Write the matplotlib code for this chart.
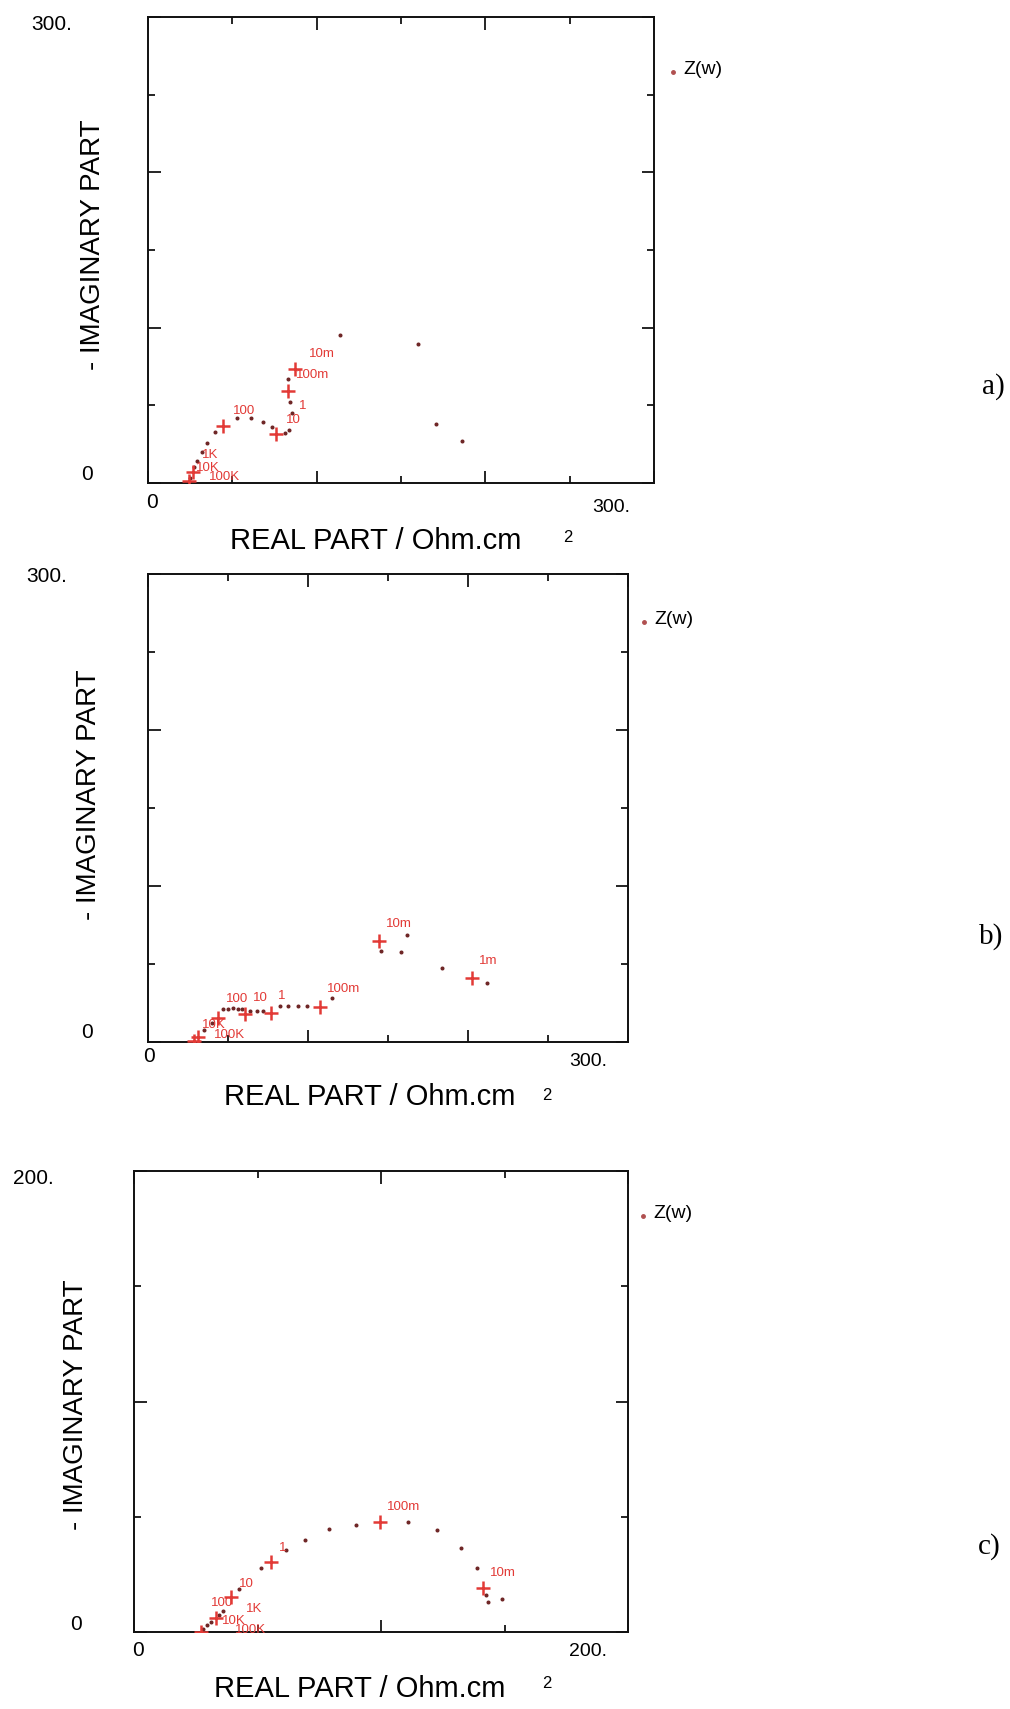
import matplotlib
matplotlib.use("Agg")
import matplotlib.pyplot as plt
from matplotlib.ticker import MultipleLocator

W, H = 1010, 1709
RED = "#e23a36"
DOT = "#6e2626"
SANS = "Liberation Sans"
SERIF = "Liberation Serif"

# ---- panel a) ----
a_plus_re = [24.5, 26.5, 44.7, 76.1, 82.8, 87.4]
a_plus_im = [1.0, 7.0, 37.0, 31.6, 59.5, 73.6]
a_dot_re = [25.0, 27.5, 29.0, 32.0, 35.0, 40.0, 53.0, 61.0, 68.0, 73.6, 81.5,
            83.4, 85.4, 84.0, 82.8, 114.0, 159.8, 170.7, 186.1]
a_dot_im = [3.0, 10.0, 14.0, 20.0, 26.0, 33.0, 42.0, 41.7, 39.0, 35.8, 32.4,
            34.1, 45.0, 52.0, 67.0, 95.5, 89.2, 38.3, 27.1]
a_lab_text = ["10m", "100m", "1", "10", "100", "1K", "10K", "100K"]
a_lab_re = [103.2, 97.3, 91.7, 86.4, 56.8, 37.0, 35.5, 45.5]
a_lab_im = [82.9, 69.3, 49.8, 40.7, 46.6, 18.0, 9.5, 4.0]

# ---- panel b) ----
b_plus_re = [28.75, 31.0, 44.0, 60.6, 76.7, 107.5, 144.6, 202.2]
b_plus_im = [0.6, 3.5, 15.6, 18.2, 18.8, 22.4, 64.7, 41.2]
b_dot_re = [35.0, 40.0, 47.0, 50.0, 53.0, 56.0, 59.0, 64.0, 68.0, 72.0, 82.5,
            87.7, 94.0, 99.6, 115.2, 145.6, 158.1, 161.7, 183.5, 211.7]
b_dot_im = [8.0, 12.0, 21.0, 21.4, 21.5, 21.3, 21.0, 20.0, 20.0, 19.8, 22.8,
            22.8, 23.0, 23.0, 28.4, 58.3, 57.9, 68.4, 47.6, 38.0]
b_lab_text = ["100", "10", "1", "100m", "10m", "1m", "10K", "100K"]
b_lab_re = [55.4, 70.4, 83.5, 122.0, 156.5, 212.7, 41.0, 51.0]
b_lab_im = [27.4, 28.4, 29.5, 33.8, 75.4, 51.9, 11.0, 4.5]

# ---- panel c) ----
c_plus_re = [27.2, 33.0, 39.2, 55.6, 99.5, 141.4]
c_plus_im = [0.0, 6.0, 15.2, 30.2, 47.6, 19.3]
c_dot_re = [28.0, 29.5, 31.0, 34.5, 36.0, 42.6, 51.5, 61.7, 69.2, 79.0, 89.9,
            111.1, 122.7, 132.5, 138.9, 142.4, 143.4, 148.9]
c_dot_im = [1.5, 3.0, 4.5, 7.5, 9.0, 18.8, 27.7, 35.4, 39.9, 44.6, 46.4,
            47.7, 44.2, 36.3, 27.6, 16.0, 13.1, 14.5]
c_lab_text = ["100m", "10m", "1", "10", "100", "1K", "10K", "100K"]
c_lab_re = [109.3, 149.5, 60.3, 45.3, 35.5, 48.5, 40.5, 47.0]
c_lab_im = [54.1, 25.4, 36.3, 21.0, 12.5, 9.8, 4.6, 0.8]

axis_max = [300, 300, 200]
panel_tags = ["a)", "b)", "c)"]

# box geometry (pixels: left, right, top, bottom)
boxes = [(148, 654, 17, 483), (148, 628, 574, 1042), (134, 628, 1171, 1632)]
# text anchors per panel (pixels)
ylab_pos = [(93, 245), (89, 795), (76, 1405)]
ytop_pos = [(52, 24), (47, 577), (33, 1179)]
yzero_pos = [(87, 475), (87, 1033), (76, 1624)]
xzero_pos = [(152, 503), (149, 1057), (138, 1651)]
xmax_pos = [(611, 507), (588, 1062), (588, 1651)]
xlab_pos = [(376, 541), (370, 1097), (360, 1689)]
sq_pos = [(568, 537), (547, 1095), (547, 1683)]
leg_pos = [(673, 72), (644, 622), (643, 1216)]
tag_pos = [(993, 387), (991, 937), (989, 1547)]

fig = plt.figure(figsize=(W / 100, H / 100), dpi=100)
fig.patch.set_facecolor("white")


def fx(x):
    return x / W


def fy(y):
    return 1 - y / H


series = [
    (a_plus_re, a_plus_im, a_dot_re, a_dot_im, a_lab_text, a_lab_re, a_lab_im),
    (b_plus_re, b_plus_im, b_dot_re, b_dot_im, b_lab_text, b_lab_re, b_lab_im),
    (c_plus_re, c_plus_im, c_dot_re, c_dot_im, c_lab_text, c_lab_re, c_lab_im),
]

for i, (pre, pim, dre, dim, lt, lre, lim) in enumerate(series):
    l, r, t, b = boxes[i]
    ax = fig.add_axes([fx(l), fy(b), (r - l) / W, (b - t) / H])
    vmax = axis_max[i]
    ax.set_xlim(0, vmax)
    ax.set_ylim(0, vmax)
    ax.xaxis.set_major_locator(MultipleLocator(100))
    ax.yaxis.set_major_locator(MultipleLocator(100))
    ax.xaxis.set_minor_locator(MultipleLocator(50))
    ax.yaxis.set_minor_locator(MultipleLocator(50))
    ax.tick_params(which="both", direction="in", top=True, right=True,
                   labelbottom=False, labelleft=False, color="black", width=1.2)
    ax.tick_params(which="major", length=9)
    ax.tick_params(which="minor", length=5)
    for s in ax.spines.values():
        s.set_linewidth(1.4)
        s.set_color("#111111")

    ax.plot(dre, dim, linestyle="none", marker="o", markersize=1.9,
            color=DOT, zorder=3)
    ax.plot(pre, pim, linestyle="none", marker="+", markersize=10,
            markeredgewidth=1.8, color=RED, zorder=4)
    for txt, xr, yi in zip(lt, lre, lim):
        ax.text(xr, yi, txt, color=RED, fontsize=9.5, family=SANS,
                ha="center", va="center", zorder=5)

    # axis annotations in the corner style of the plotting software
    top_lbl = "300." if vmax == 300 else "200."
    fig.text(fx(ytop_pos[i][0]), fy(ytop_pos[i][1]), top_lbl, fontsize=15,
             family=SANS, ha="center", va="center")
    fig.text(fx(yzero_pos[i][0]), fy(yzero_pos[i][1]), "0", fontsize=15,
             family=SANS, ha="center", va="center")
    fig.text(fx(xzero_pos[i][0]), fy(xzero_pos[i][1]), "0", fontsize=15,
             family=SANS, ha="center", va="center")
    fig.text(fx(xmax_pos[i][0]), fy(xmax_pos[i][1]), top_lbl, fontsize=14,
             family=SANS, ha="center", va="center")
    fig.text(fx(xlab_pos[i][0]), fy(xlab_pos[i][1]), "REAL PART / Ohm.cm",
             fontsize=21, family=SANS, ha="center", va="center")
    fig.text(fx(sq_pos[i][0]), fy(sq_pos[i][1]), "2", fontsize=12,
             family=SANS, ha="center", va="center")
    fig.text(fx(ylab_pos[i][0]), fy(ylab_pos[i][1]), "- IMAGINARY PART",
             fontsize=20, family=SANS, rotation=90, ha="center", va="center")

    # legend entry
    lx, ly = leg_pos[i]
    fig.lines.append(plt.Line2D([fx(lx)], [fy(ly)], transform=fig.transFigure,
                                marker="o", markersize=2.5, color="#b05050",
                                linestyle="none"))
    fig.text(fx(lx + 10), fy(ly - 2), "Z(w)", fontsize=14, family=SANS,
             ha="left", va="center")

    fig.text(fx(tag_pos[i][0]), fy(tag_pos[i][1]), panel_tags[i], fontsize=21,
             family=SERIF, ha="center", va="center")

fig.savefig("out.png", dpi=100, facecolor="white")
